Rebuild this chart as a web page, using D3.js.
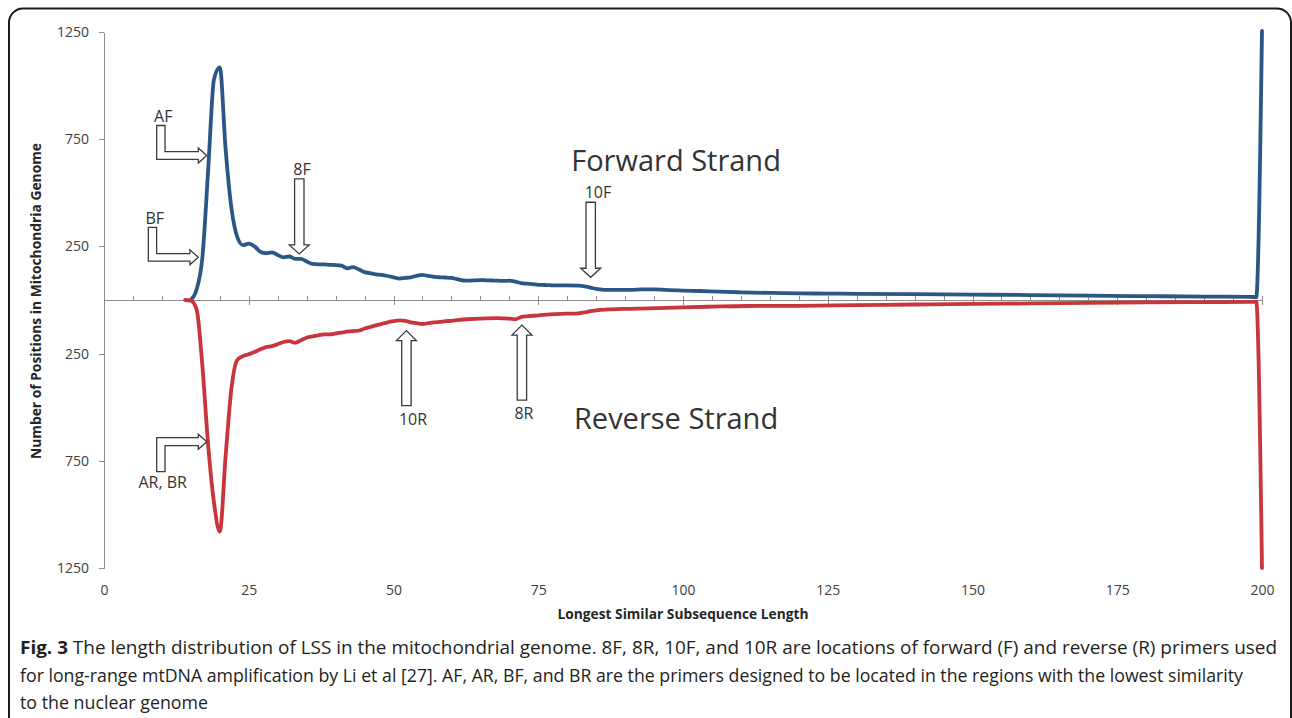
<!DOCTYPE html>
<html>
<head>
<meta charset="utf-8">
<script src="https://cdn.jsdelivr.net/npm/d3@7"></script>
<style>
  body { margin: 0; background: #fff; }
  svg text { font-family: 'Open Sans', 'Noto Sans', sans-serif; }
  .axis path, .axis line { stroke: #8c8c8c; stroke-width: 1; shape-rendering: crispEdges; }
  .axis text { fill: #404040; font-size: 14px; }
  .chart__line { fill: none; stroke-width: 3.8; stroke-linejoin: round; stroke-linecap: round; }
  .chart__arrow { fill: #fff; stroke: #3a3a3a; stroke-width: 1.3; stroke-linejoin: miter; }
  .chart__note { fill: #333; font-size: 16px; }
  .chart__strand { fill: #333; font-size: 29px; }
  .chart__title { fill: #262626; font-size: 14px; font-weight: 700; }
  .caption { fill: #231f20; font-size: 18px; }
</style>
</head>
<body>
<svg id="chart" width="1292" height="718"></svg>
<script>
// forward strand: LSS length -> number of positions
const fwdLength = [15, 16, 17, 18, 19, 20, 21, 22, 23, 24, 25, 26, 27, 28, 29, 30, 31, 32, 33, 34, 35,
  36, 37, 38, 39, 40, 41, 42, 43, 44, 45, 46, 47, 48, 49, 50, 51, 52, 53, 54, 55, 56, 57, 58, 59, 60,
  61, 62, 63, 64, 65, 66, 67, 68, 69, 70, 71, 72, 73, 74, 75, 76, 77, 78, 80, 82, 83, 84, 85, 86, 87,
  89, 91, 93, 95, 97, 100, 103, 106, 110, 115, 120, 125, 130, 140, 150, 160, 170, 180, 190, 198, 199, 200];
const fwdCount = [0, 50, 200, 610, 1030, 1085, 705, 430, 295, 256, 263, 250, 225, 218, 222, 210, 199, 203, 192, 192, 180,
  168, 166, 166, 164, 163, 160, 148, 153, 143, 130, 125, 120, 117, 112, 106, 100, 103, 106, 113, 117, 112, 108, 106, 105, 103,
  97, 91, 90, 92, 93, 92, 91, 90, 89, 90, 86, 79, 76, 74, 71, 70, 69, 68, 68, 67, 64, 58, 52, 48, 47,
  47, 47, 50, 50, 47, 44, 42, 39, 36, 33, 31, 30, 29, 27, 25, 23, 20, 18, 16, 15, 13, 1255];

// reverse strand
const revLength = [14, 15, 16, 17, 18, 19, 20, 21, 22, 23, 24, 25, 26, 27, 28, 29, 30, 31, 32, 33, 34, 35,
  36, 37, 38, 39, 40, 41, 42, 43, 44, 45, 46, 47, 48, 49, 50, 51, 52, 53, 54, 55, 56, 57, 58, 59, 60,
  61, 62, 64, 66, 68, 70, 71, 72, 73, 75, 77, 80, 82, 83, 84, 85, 87, 90, 94, 100, 105, 111, 120,
  130, 140, 150, 160, 170, 180, 190, 198, 199, 200];
const revCount = [0, 3, 45, 310, 680, 945, 1080, 730, 415, 280, 262, 253, 243, 230, 220, 215, 206, 196, 192, 199, 188, 176,
  170, 165, 160, 160, 156, 152, 148, 145, 143, 133, 126, 118, 111, 104, 99, 95, 97, 104, 108, 112, 108, 104, 102, 99, 97,
  94, 91, 88, 86, 85, 87, 90, 80, 76, 72, 67, 64, 62, 58, 52, 48, 44, 41, 39, 34, 31, 28, 27,
  24, 21, 18, 16, 13, 11, 10, 9, 8, 1250];

// axis ticks
const xTicks = [0, 25, 50, 75, 100, 125, 150, 175, 200];
const xMinorTicks = d3.range(0, 201, 5);
const yTicks = [1250, 750, 250, -250, -750, -1250];

// primer arrows (tip in data units, reverse strand below zero)
const noteLabels = ['AF', 'BF', '8F', '10F', '10R', '8R', 'AR, BR'];
const noteLength = [17.74, 16.29, 33.73, 84.06, 52.23, 72.18, 17.74];
const noteCount = [674, 199, 215, 106, -143, -117, -661];
const noteShape = ['bent', 'bent', 'down', 'down', 'up', 'up', 'bentUp'];

const strandLabels = ['Forward Strand', 'Reverse Strand'];
const strandLength = [98.8, 98.8];
const strandCount = [600, -600];

const captionLines = [
  [['Fig. 3', true], [' The length distribution of LSS in the mitochondrial genome. 8F, 8R, 10F, and 10R are locations of forward (F) and reverse (R) primers used', false]],
  [['for long-range mtDNA amplification by Li et al [27]. AF, AR, BF, and BR are the primers designed to be located in the regions with the lowest similarity', false]],
  [['to the nuclear genome', false]]
];

(function() {
  const svg = d3.select('#chart');
  const plot = {left: 104, right: 1262, top: 32, bottom: 568};

  const x = d3.scaleLinear().domain([0, 200]).range([plot.left, plot.right]);
  const y = d3.scaleLinear().domain([-1250, 1250]).range([plot.bottom, plot.top]);

  // stretch a text to a measured width
  const fit = (sel, w) => sel.attr('textLength', w).attr('lengthAdjust', 'spacingAndGlyphs');

  // figure frame, bottom runs off the page
  svg.append('rect')
    .attr('x', 9).attr('y', 8.5)
    .attr('width', 1282).attr('height', 780)
    .attr('rx', 14)
    .attr('fill', 'none')
    .attr('stroke', '#1a1a1a')
    .attr('stroke-width', 2);

  // y axis
  svg.append('g')
    .attr('class', 'axis axis--y')
    .attr('transform', `translate(${plot.left},0)`)
    .call(d3.axisLeft(y)
      .tickValues(yTicks)
      .tickSize(5)
      .tickSizeOuter(0)
      .tickPadding(10)
      .tickFormat(d => Math.abs(d)));

  // x axis along zero: minor ticks inside, major ticks crossing
  svg.append('g')
    .attr('class', 'axis axis--x')
    .attr('transform', `translate(0,${y(0)})`)
    .call(d3.axisBottom(x)
      .tickValues(xMinorTicks)
      .tickSize(-4)
      .tickSizeOuter(0)
      .tickFormat(''));
  svg.append('g')
    .attr('class', 'axis axis--x')
    .attr('transform', `translate(0,${y(0)})`)
    .call(d3.axisBottom(x)
      .tickValues(xTicks)
      .tickSize(4.5)
      .tickFormat(''))
    .call(g => g.select('.domain').remove());

  // x labels sit at the bottom of the plot
  svg.append('g')
    .attr('class', 'axis axis--labels')
    .attr('transform', 'translate(0,585)')
    .call(d3.axisBottom(x)
      .tickValues(xTicks)
      .tickSize(0)
      .tickPadding(0))
    .call(g => g.select('.domain').remove());

  // strands
  const line = d3.line()
    .curve(d3.curveMonotoneX)
    .x(d => x(d[0]))
    .y(d => y(d[1]));

  svg.append('path')
    .datum(d3.zip(fwdLength, fwdCount))
    .attr('class', 'chart__line')
    .attr('stroke', '#2b5687')
    .attr('d', line);

  svg.append('path')
    .datum(d3.zip(revLength, revCount.map(v => -v)))
    .attr('class', 'chart__line')
    .attr('stroke', '#c8353a')
    .attr('d', line);

  // arrow outlines, drawn relative to the tip
  const shapes = {
    down: [[-4.7, -75], [4.7, -75], [4.7, -9], [10, -9], [0, 0], [-10, -9], [-4.7, -9]],
    up: [[-4.7, 75], [4.7, 75], [4.7, 10], [10, 10], [0, 0], [-10, 10], [-4.7, 10]],
    bent: [[-50, -30], [-41.7, -30], [-41.7, -3.8], [-8.4, -3.8], [-8.4, -7.5], [0, 0],
      [-8.4, 7.5], [-8.4, 3.8], [-50, 3.8]],
    bentUp: [[-50, 30], [-41.7, 30], [-41.7, 4], [-8.4, 4], [-8.4, 7.5], [0, 0],
      [-8.4, -7.5], [-8.4, -4], [-50, -4]]
  };
  const labelPos = {
    down: {x: -6, y: -79, anchor: 'start'},
    up: {x: -7.5, y: 94, anchor: 'start'},
    bent: {x: -43.5, y: -33, anchor: 'middle'},
    bentUp: {x: -44, y: 46, anchor: 'middle'}
  };

  const notes = svg.append('g')
    .attr('class', 'chart__notes')
    .selectAll('g')
    .data(noteLabels.map((t, i) => ({label: t, L: noteLength[i], v: noteCount[i], shape: noteShape[i]})))
    .join('g')
    .attr('transform', d => `translate(${x(d.L)},${y(d.v)})`);

  notes.append('path')
    .attr('class', 'chart__arrow')
    .attr('d', d => 'M' + shapes[d.shape].join('L') + 'Z');

  notes.append('text')
    .attr('class', 'chart__note')
    .attr('x', d => labelPos[d.shape].x)
    .attr('y', d => labelPos[d.shape].y)
    .attr('text-anchor', d => labelPos[d.shape].anchor)
    .text(d => d.label);

  // strand names
  svg.append('g')
    .selectAll('text')
    .data(strandLabels)
    .join('text')
    .attr('class', 'chart__strand')
    .attr('x', (d, i) => x(strandLength[i]))
    .attr('y', (d, i) => y(strandCount[i]))
    .attr('text-anchor', 'middle')
    .text(d => d);

  // axis titles
  svg.append('text')
    .attr('class', 'chart__title')
    .attr('transform', `translate(41,${(plot.top + plot.bottom) / 2 + 1}) rotate(-90)`)
    .attr('text-anchor', 'middle')
    .text('Number of Positions in Mitochondria Genome')
    .call(fit, 316);

  svg.append('text')
    .attr('class', 'chart__title')
    .attr('x', x(100))
    .attr('y', 619)
    .attr('text-anchor', 'middle')
    .text('Longest Similar Subsequence Length')
    .call(fit, 251);

  // caption
  const captionWidth = [1257, 1223, 188];
  const caption = svg.append('g').attr('class', 'caption');
  captionLines.forEach((parts, i) => {
    const t = caption.append('text')
      .attr('x', 20)
      .attr('y', 654 + i * 27.5);
    parts.forEach(p => {
      t.append('tspan')
        .attr('font-weight', p[1] ? 700 : 400)
        .text(p[0]);
    });
    t.call(fit, captionWidth[i]);
  });
}());
</script>
</body>
</html>
